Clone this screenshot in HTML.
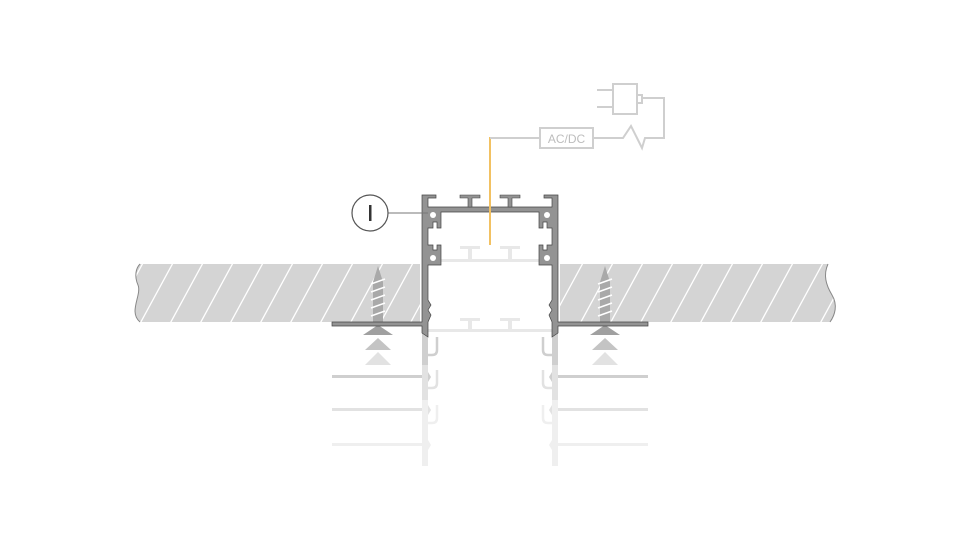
<!DOCTYPE html>
<html><head><meta charset="utf-8"><style>html,body{margin:0;padding:0;background:#fff;}svg{display:block}</style></head>
<body>
<svg width="970" height="544" viewBox="0 0 970 544" xmlns="http://www.w3.org/2000/svg">
<defs>
<clipPath id="wl"><path d="M140,264 L420,264 L420,322 L140,322 C128,312 142,295 138,285 C134,276 136,268 140,264 Z"/></clipPath>
<clipPath id="wr"><path d="M560,264 L828,264 C823,275 826,285 832,295 C838,305 835,315 830,322 L560,322 Z"/></clipPath>
<g id="screw">
<path d="M378,266 L383,282 L383,322 L373,322 L373,282 Z" fill="#a9a9a9"/>
<path d="M371,284 L385,279 M371,292 L385,287 M371,300 L385,295 M371,308 L385,303 M371,316 L385,311" stroke="#fff" stroke-width="1.6"/>
</g>
<g id="prof">
<path d="M422,195 L436,195 L436,198 L428,198 L428,207 L490,207 L490,212 L441,212 L441,228 L437,228 L437,222 L433,222 L433,228 L428,228 L428,245 L433,245 L433,250 L437,250 L437,245 L441,245 L441,265 L428,265 L428,300 L431,305 L428,310 L431,315 L428,322 L428,337 L422,333 L422,326 L332,326 L332,322 L422,322 Z" fill="#939393" stroke="#444" stroke-width="0.7"/>
<circle cx="433" cy="215" r="3" fill="#fff"/>
<circle cx="433" cy="258" r="3" fill="#fff"/>
<path d="M460,195 L480,195 L480,198 L472,198 L472,207 L468,207 L468,198 L460,198 Z" fill="#939393" stroke="#444" stroke-width="0.6"/>
</g>
<g id="ghost">
<path d="M422,332 L428,332 L428,372 L431,377 L428,382 L428,398 L422,398 Z" fill="currentColor"/>
<path d="M437,337 L437,350 Q437,355 432,355 L428,355" fill="none" stroke="currentColor" stroke-width="2.5"/>
<rect x="332" y="375" width="90" height="3" fill="currentColor"/>
</g>
</defs>

<g clip-path="url(#wl)"><rect x="120" y="264" width="310" height="58" fill="#d4d4d4"/>
<g stroke="#fff" stroke-width="1.3">
<path d="M100,342 L150,250 M130,342 L180,250 M160,342 L210,250 M190,342 L240,250 M220,342 L270,250 M250,342 L300,250 M280,342 L330,250 M310,342 L360,250 M340,342 L390,250 M370,342 L420,250 M400,342 L450,250"/></g></g>
<g clip-path="url(#wr)"><rect x="555" y="264" width="290" height="58" fill="#d4d4d4"/>
<g stroke="#fff" stroke-width="1.3">
<path d="M540,342 L590,250 M570,342 L620,250 M600,342 L650,250 M630,342 L680,250 M660,342 L710,250 M690,342 L740,250 M720,342 L770,250 M750,342 L800,250 M780,342 L830,250 M810,342 L860,250"/></g></g>
<path d="M140,264 C136,268 134,276 138,285 C142,295 128,312 140,322" fill="none" stroke="#888" stroke-width="1"/>
<path d="M828,264 C823,275 826,285 832,295 C838,305 835,315 830,322" fill="none" stroke="#888" stroke-width="1"/>

<g color="#cfcfcf"><use href="#ghost"/><use href="#ghost" transform="translate(980,0) scale(-1,1)"/></g>
<g color="#e2e2e2" transform="translate(0,33)"><use href="#ghost"/><use href="#ghost" transform="translate(980,0) scale(-1,1)"/></g>
<g color="#efefef" transform="translate(0,68)"><use href="#ghost"/><use href="#ghost" transform="translate(980,0) scale(-1,1)"/></g>
<g fill="#e8e8e8">
<rect x="440" y="259" width="100" height="3"/>
<rect x="460" y="246" width="20" height="3"/><rect x="468" y="246" width="4" height="13"/>
<rect x="500" y="246" width="20" height="3"/><rect x="508" y="246" width="4" height="13"/>
<rect x="428" y="329" width="124" height="3"/>
<rect x="460" y="318" width="20" height="3"/><rect x="468" y="318" width="4" height="11"/>
<rect x="500" y="318" width="20" height="3"/><rect x="508" y="318" width="4" height="11"/>
</g>

<use href="#screw"/>
<use href="#screw" transform="translate(227,0)"/>
<g fill="#a0a0a0"><path d="M378,325 L393,335 L363,335 Z"/><path d="M605,325 L620,335 L590,335 Z"/></g>
<g fill="#c4c4c4"><path d="M378,338 L391,350 L365,350 Z"/><path d="M605,338 L618,350 L592,350 Z"/></g>
<g fill="#e2e2e2"><path d="M378,352 L391,365 L365,365 Z"/><path d="M605,352 L618,365 L592,365 Z"/></g>

<use href="#prof"/>
<use href="#prof" transform="translate(980,0) scale(-1,1)"/>

<line x1="490" y1="137" x2="490" y2="245" stroke="#f2c162" stroke-width="2"/>
<g fill="none" stroke="#cfcfcf" stroke-width="2">
<path d="M490,138 L540,138"/>
<rect x="540" y="128" width="53" height="20" fill="#fff"/>
<path d="M593,138 L623,138 L631,126 L642,148 L645,138 L664,138 L664,98 L642,98"/>
<rect x="613" y="84" width="24" height="30"/>
<path d="M637,95 L642,95 L642,103 L637,103"/>
<path d="M597,90 L613,90 M597,107 L613,107"/>
</g>
<text x="566.5" y="143" font-family="Liberation Sans, sans-serif" font-size="12" fill="#bdbdbd" text-anchor="middle">AC/DC</text>

<line x1="388" y1="213" x2="428" y2="213" stroke="#777" stroke-width="1"/>
<circle cx="370" cy="213" r="18" fill="#fff" stroke="#555" stroke-width="1.2"/>
<rect x="369" y="205" width="2.5" height="16" fill="#333"/>
</svg>
</body></html>
